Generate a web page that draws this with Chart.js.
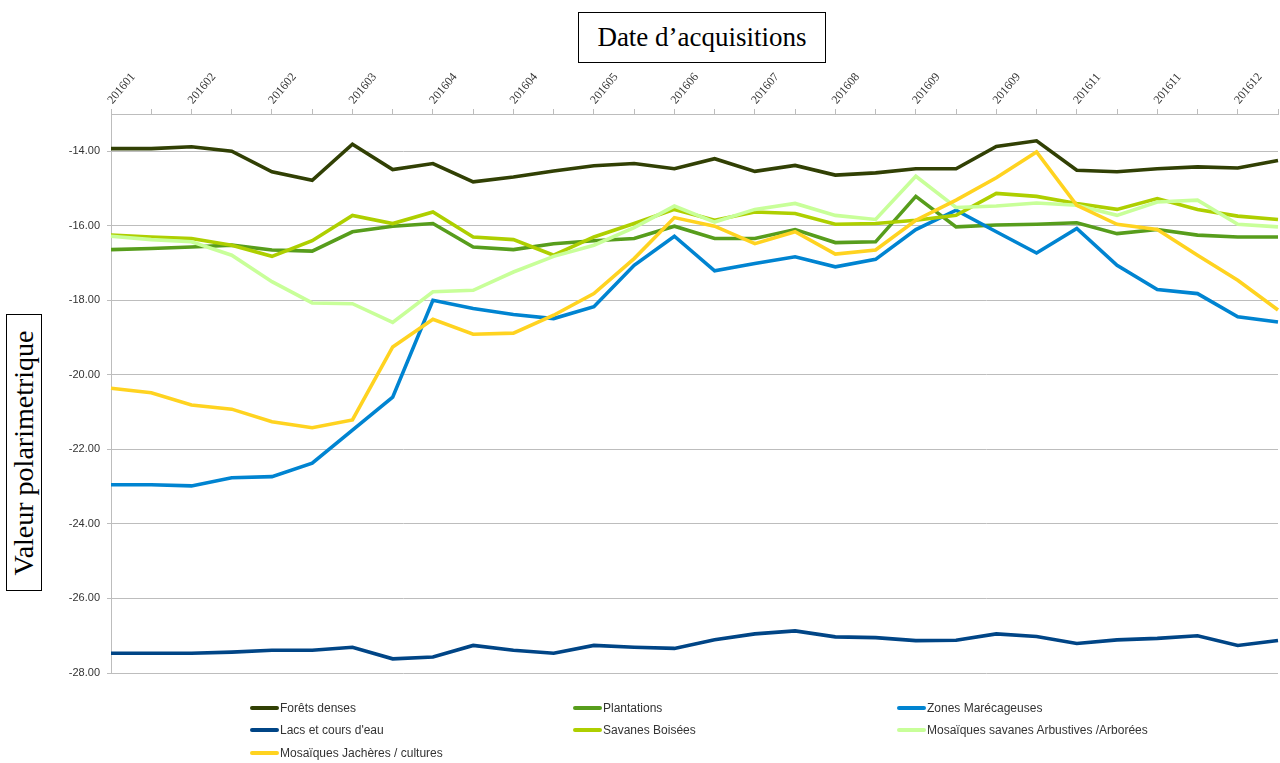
<!DOCTYPE html>
<html>
<head>
<meta charset="utf-8">
<title>Valeur polarimetrique</title>
<script src="https://cdn.jsdelivr.net/npm/chart.js@4/dist/chart.umd.min.js"></script>
<style>
  html, body { margin: 0; padding: 0; background: #fff; }
  #wrap { position: relative; width: 1280px; height: 763px; overflow: hidden; }
  #chartBox { position: absolute; left: 0; top: 0; width: 1280px; height: 763px; }
  .boxed {
    position: absolute; box-sizing: border-box; border: 1px solid #000; background: #fff;
    font-family: "Liberation Serif", "Times New Roman", serif; color: #000;
    display: flex; align-items: center; justify-content: center; white-space: nowrap;
  }
  #xTitle { left: 578px; top: 12px; width: 248px; height: 51px; font-size: 27px; }
  #yTitle { left: 6px; top: 314px; width: 36px; height: 277px; font-size: 28px; }
  #yTitle span { display: block; transform: rotate(-90deg); }
  #legend {
    position: absolute; left: 0; top: 0; width: 1280px; height: 763px; pointer-events: none;
    font-family: "Liberation Sans", Arial, sans-serif; font-size: 12px; color: #333;
  }
  .item { position: absolute; display: flex; align-items: center; height: 16px; white-space: nowrap; }
  .swatch { width: 29px; height: 4px; border-radius: 2px; margin-right: 1px; }
</style>
</head>
<body>
<div id="wrap">
  <div id="chartBox"><canvas id="chart"></canvas></div>
  <div id="xTitle" class="boxed">Date d’acquisitions</div>
  <div id="yTitle" class="boxed"><span>Valeur polarimetrique</span></div>
  <div id="legend"></div>
</div>
<script>
// Acquisition dates, one label every second acquisition
const tickLabels = ['201601', '201602', '201602', '201603', '201604', '201604', '201605', '201606',
  '201607', '201608', '201609', '201609', '201611', '201611', '201612'];
const categories = tickLabels.flatMap(l => [l, '']);

// Mean backscatter per land-cover class (dB)
const foretsDenses = [-13.93, -13.93, -13.88, -14.00, -14.55, -14.78, -13.81, -14.49, -14.33, -14.82,
  -14.69, -14.53, -14.39, -14.33, -14.47, -14.20, -14.54, -14.38, -14.64, -14.58,
  -14.47, -14.47, -13.87, -13.72, -14.51, -14.55, -14.47, -14.42, -14.45, -14.25];
const plantations = [-16.64, -16.61, -16.57, -16.52, -16.65, -16.68, -16.16, -16.01, -15.94, -16.57,
  -16.64, -16.48, -16.40, -16.34, -16.01, -16.34, -16.34, -16.10, -16.45, -16.43,
  -15.21, -16.03, -15.98, -15.96, -15.92, -16.21, -16.10, -16.25, -16.30, -16.30];
const zonesMarecageuses = [-22.95, -22.95, -22.98, -22.76, -22.73, -22.37, -21.48, -20.60, -18.00, -18.22,
  -18.38, -18.49, -18.17, -17.06, -16.28, -17.21, -17.01, -16.83, -17.10, -16.90,
  -16.10, -15.58, -16.16, -16.73, -16.07, -17.06, -17.71, -17.82, -18.44, -18.58];
const lacsCoursEau = [-27.47, -27.47, -27.47, -27.44, -27.39, -27.39, -27.31, -27.62, -27.57, -27.26,
  -27.39, -27.47, -27.26, -27.31, -27.34, -27.11, -26.95, -26.87, -27.03, -27.05,
  -27.13, -27.12, -26.95, -27.02, -27.21, -27.11, -27.07, -27.00, -27.26, -27.13];
const savanesBoisees = [-16.25, -16.30, -16.34, -16.52, -16.82, -16.40, -15.72, -15.94, -15.63, -16.30,
  -16.37, -16.79, -16.30, -15.94, -15.56, -15.85, -15.63, -15.67, -15.96, -15.94,
  -15.85, -15.72, -15.13, -15.21, -15.40, -15.56, -15.27, -15.56, -15.74, -15.83];
const mosaiquesSavanes = [-16.28, -16.37, -16.43, -16.79, -17.50, -18.07, -18.09, -18.59, -17.77, -17.73,
  -17.24, -16.82, -16.52, -16.05, -15.47, -15.90, -15.56, -15.40, -15.72, -15.83,
  -14.67, -15.51, -15.47, -15.39, -15.45, -15.72, -15.36, -15.31, -15.96, -16.03];
const mosaiquesJacheres = [-20.36, -20.48, -20.81, -20.92, -21.26, -21.42, -21.21, -19.25, -18.51, -18.91,
  -18.88, -18.40, -17.82, -16.88, -15.78, -16.01, -16.48, -16.16, -16.76, -16.65,
  -15.85, -15.31, -14.71, -14.02, -15.45, -15.96, -16.10, -16.79, -17.46, -18.26];

const seriesNames = ['Forêts denses', 'Plantations', 'Zones Marécageuses', 'Lacs et cours d\'eau',
  'Savanes Boisées', 'Mosaïques savanes Arbustives /Arborées', 'Mosaïques Jachères / cultures'];
const seriesValues = [foretsDenses, plantations, zonesMarecageuses, lacsCoursEau,
  savanesBoisees, mosaiquesSavanes, mosaiquesJacheres];
const seriesColors = ['#314004', '#579d1c', '#0084d1', '#004586', '#aecf00', '#c8ff99', '#ffd320'];

const gridColor = '#bdbdbd';

const datasets = seriesNames.map((name, i) => ({
  label: name,
  data: seriesValues[i],
  borderColor: seriesColors[i],
  backgroundColor: seriesColors[i],
  borderWidth: 3.6,
  pointRadius: 0,
  tension: 0,
  fill: false,
  order: seriesNames.length - i
}));

const chart = new Chart(document.getElementById('chart'), {
  type: 'line',
  data: { labels: categories, datasets },
  options: {
    responsive: true,
    maintainAspectRatio: false,
    animation: false,
    layout: { padding: { left: 0, right: 0, top: 0, bottom: 90 } },
    plugins: { legend: { display: false }, tooltip: { enabled: false }, title: { display: false } },
    scales: {
      x: {
        position: 'top',
        offset: false,
        afterFit: s => { s.height = 114; },
        grid: { drawOnChartArea: false, color: gridColor, tickLength: 5 },
        border: { display: true, color: gridColor },
        ticks: {
          autoSkip: false, minRotation: 50, maxRotation: 50, padding: 2, labelOffset: 10,
          color: '#333',
          font: { family: '"Liberation Serif", "Times New Roman", serif', size: 12 },
          callback: (v, i) => categories[i]
        }
      },
      y: {
        min: -28, max: -13,
        afterFit: s => { s.width = 111; },
        afterBuildTicks: s => { s.ticks = s.ticks.filter(t => Math.abs(t.value % 2) < 1e-9); },
        grid: { color: gridColor, tickLength: 4, lineWidth: 1 },
        border: { display: true, color: gridColor },
        ticks: {
          stepSize: 2, padding: 7, color: '#333',
          font: { family: '"Liberation Sans", Arial, sans-serif', size: 11 },
          callback: v => Number(v).toFixed(2)
        }
      }
    }
  }
});

// Three-column legend under the plot
const legendEl = document.getElementById('legend');
const colX = [250, 573, 897];
const rowY = [700, 722, 745];
chart.data.datasets.forEach((ds, i) => {
  const item = document.createElement('div');
  item.className = 'item';
  item.style.left = colX[i % 3] + 'px';
  item.style.top = rowY[Math.floor(i / 3)] + 'px';
  const sw = document.createElement('span');
  sw.className = 'swatch';
  sw.style.background = ds.borderColor;
  const tx = document.createElement('span');
  tx.textContent = ds.label;
  item.appendChild(sw);
  item.appendChild(tx);
  legendEl.appendChild(item);
});
</script>
</body>
</html>
